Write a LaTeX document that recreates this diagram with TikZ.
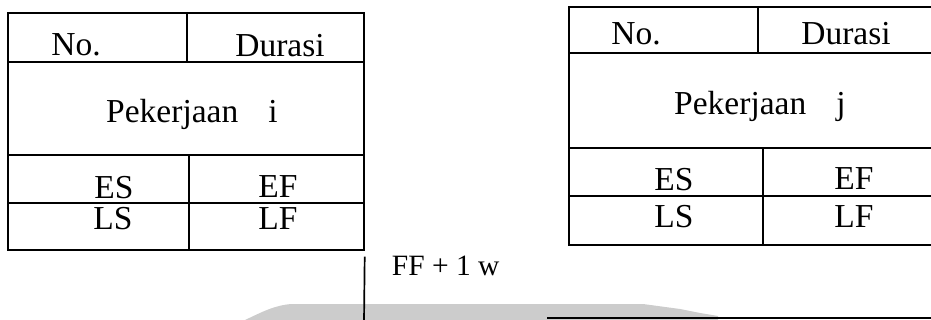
\documentclass[tikz,border=0pt]{standalone}
\usepackage{fontspec}
\setmainfont{Liberation Serif}
\begin{document}
\begin{tikzpicture}[x=1pt,y=-1pt,line width=1.7pt,
  cell/.style={anchor=base,inner sep=0pt,font=\fontsize{33.5}{33.5}\selectfont},
  lbl/.style={anchor=base,inner sep=0pt,font=\fontsize{29.5}{29.5}\selectfont},
  boxframe/.style={draw,inner sep=0pt,anchor=north west,line width=1.7pt}]
\useasboundingbox (0,0) rectangle (931,320);
% faint watermark band
\fill[black!20] (245,320) .. controls (262,312) and (275,305) .. (292,304) -- (643,304) -- (680,309) -- (700,313) -- (718,316) -- (718,320) -- cycle;

% ---- activity i ----
\node[boxframe,minimum width=356pt,minimum height=237pt] (boxi) at (7,12) {};
\draw (7,62) -- (363,62);
\draw (187,12) -- (187,62);
\draw (7,155) -- (363,155);
\draw (7,203) -- (363,203);
\draw (189,155) -- (189,249);
\node[cell] (noi) at (76,56) {No.};
\node[cell] (duri) at (280,57) {Durasi};
\node[cell] (peki) at (192,123) {Pekerjaan\hspace{0.9em}i};
\node[cell] (esi) at (114,199) {ES};
\node[cell] (efi) at (278,198) {EF};
\node[cell] (lsi) at (113,230) {LS};
\node[cell] (lfi) at (278,230) {LF};

% ---- activity j ----
\coordinate (jtr) at (945,7);
\coordinate (jbr) at (945,245);
\node[inner sep=0pt] (boxj) at (569,7) {};
\draw (jtr) -- (boxj.center) -- (569,245) -- (jbr);
\draw (569,53) -- (945,53);
\draw (758,7) -- (758,53);
\draw (569,148) -- (945,148);
\draw (569,196) -- (945,196);
\draw (763,148) -- (763,245);
\node[cell] (noj) at (636,45) {No.};
\node[cell] (durj) at (846,45) {Durasi};
\node[cell] (pekj) at (760,115) {Pekerjaan\hspace{0.9em}j};
\node[cell] (esj) at (674,191) {ES};
\node[cell] (efj) at (854,190) {EF};
\node[cell] (lsj) at (674,228) {LS};
\node[cell] (lfj) at (854,228) {LF};

% ---- connector ----
\coordinate (down) at (364,322);
\coordinate (hstart) at (547,318);
\coordinate (hend) at (945,318);
\draw ([yshift=-6pt]boxi.south east) -- (down);
\draw (hstart) -- (hend);
\node[lbl,anchor=base west] (ff) at (391,276) {FF + 1 w};
\end{tikzpicture}
\end{document}
